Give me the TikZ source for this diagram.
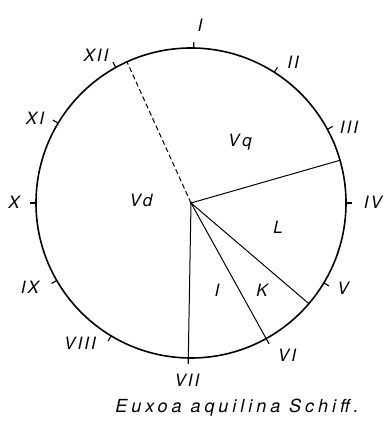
\documentclass[tikz,border=0pt]{standalone}
\usepackage{fontspec}
\setmainfont{TeX Gyre Heros}
\usetikzlibrary{calc}
\begin{document}
\begin{tikzpicture}[x=1pt,y=1pt,
  lbl/.style={font=\fontsize{17}{17}\selectfont\itshape\addfontfeature{LetterSpace=12}, inner sep=0pt},
  tickmark/.style={line width=1.1pt},
  radial/.style={line width=1pt},
  rim/.style={line width=1.6pt}]
\useasboundingbox (0,0) rectangle (390,421);
\coordinate (O) at (191,218);
\draw[rim] (O) circle[radius=155];
% ticks
\foreach \a in {89,57.5,28.4,0,-31,-61,-91,-121,-150,180,149,119}
  \draw[tickmark] (O) ++(\a:155) -- ++(\a:6);
% radial lines
\coordinate (pVq) at ($(O)+(16:155)$);
\coordinate (pL) at ($(O)+(-40.5:155)$);
\coordinate (pVI) at ($(O)+(-61:155)$);
\coordinate (pVII) at ($(O)+(-91:155)$);
\coordinate (pXII) at ($(O)+(114.4:155)$);
\draw[radial] (O) -- (pVq);
\draw[radial] (O) -- (pL);
\draw[radial] (O) -- (pVI);
\draw[radial] (O) -- (pVII);
\draw[radial, dash pattern=on 5pt off 3pt] (O) -- (pXII);
\fill (O) circle[radius=1.5];
% numerals
\node[lbl] (n1) at (200,396) {I};
\node[lbl] (n2) at (293,359) {II};
\node[lbl] (n3) at (349,294) {III};
\node[lbl] (n4) at (373,219) {IV};
\node[lbl] (n5) at (343,133) {V};
\node[lbl] (n6) at (287,66) {VI};
\node[lbl] (n7) at (187,41) {VII};
\node[lbl] (n8) at (80,78) {VIII};
\node[lbl] (n9) at (30,134) {IX};
\node[lbl] (n10) at (14,219) {X};
\node[lbl] (n11) at (35,303) {XI};
\node[lbl] (n12) at (96,366) {XII};
% regions
\node[lbl] (rVq) at (240,279) {V\,q};
\node[lbl] (rVd) at (141,221) {Vd};
\node[lbl] (rL) at (278,194) {L};
\node[lbl] (rI) at (217,131) {I};
\node[lbl] (rK) at (262,131) {K};
% caption
\node[inner sep=0pt, font=\fontsize{18}{18}\selectfont\itshape\addfontfeature{LetterSpace=22}] (cap) at (237,13) {Euxoa aquilina Schiff.};
\end{tikzpicture}
\end{document}
